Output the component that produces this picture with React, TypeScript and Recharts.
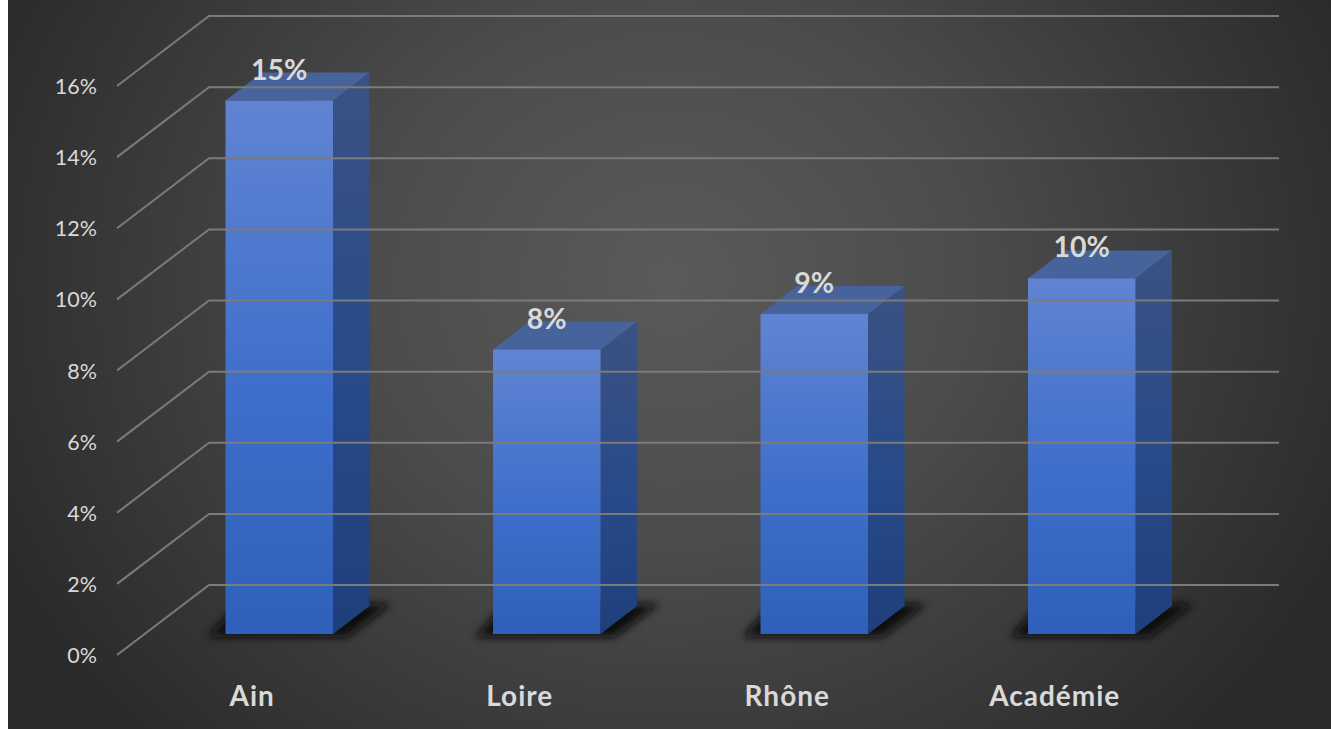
import { BarChart, Bar, XAxis, YAxis, LabelList } from "recharts";

const categories = ["Ain", "Loire", "Rhône", "Académie"];
const rates = [15, 8, 9, 10];
const yTicks = [0, 2, 4, 6, 8, 10, 12, 14, 16];

const chartData = categories.map((name, i) => ({ name, rate: rates[i] }));

const FONT = "Lato, sans-serif";
// the floor of the fake 3D box: bars stand a bit behind the axis front edge
const FLOOR_LIFT = 21;
const DEPTH_X = 36.5;
const DEPTH_Y = 28;

function YTick({ y, payload }: any) {
  return (
    <g>
      <path
        d={`M109 ${y} L201 ${y - 70} L1271 ${y - 70}`}
        fill="none"
        stroke="#7b7b7b"
        strokeWidth={2}
      />
      <text x={89} y={y + 8} textAnchor="end" fontFamily={FONT} fontSize={21.5} fill="#d9d9d9">
        {payload.value}%
      </text>
    </g>
  );
}

function XTick({ x, payload }: any) {
  return (
    <text
      x={x - 27}
      y={705.5}
      textAnchor="middle"
      fontFamily={FONT}
      fontSize={28}
      fontWeight={700}
      letterSpacing={1}
      fill="#d9d9d9"
    >
      {payload.value}
    </text>
  );
}

function Box3D({ x, y, width, height }: any) {
  const top = y - FLOOR_LIFT;
  const base = top + height;
  const right = x + width;
  return (
    <g>
      <polygon
        points={`${x - 18},${base + 3} ${right + 14},${base + 3} ${right + DEPTH_X + 22},${base - DEPTH_Y - 2} ${x + 12},${base - DEPTH_Y - 2}`}
        fill="#0c0c0c"
        filter="url(#floorShadow)"
      />
      <polygon
        points={`${right},${top} ${right + DEPTH_X},${top - DEPTH_Y} ${right + DEPTH_X},${base - DEPTH_Y} ${right},${base}`}
        fill="url(#sideFill)"
      />
      <polygon
        points={`${x},${top} ${x + DEPTH_X},${top - DEPTH_Y} ${right + DEPTH_X},${top - DEPTH_Y} ${right},${top}`}
        fill="#47639b"
      />
      <rect x={x} y={top} width={width} height={height} fill="url(#frontFill)" />
    </g>
  );
}

function BarValue({ x, y, width, value }: any) {
  return (
    <text
      x={x + width / 2}
      y={y - FLOOR_LIFT - 21}
      textAnchor="middle"
      fontFamily={FONT}
      fontSize={28.5}
      fontWeight={700}
      fill="#d9d9d9"
    >
      {value}%
    </text>
  );
}

export default function App() {
  return (
    <>
      <style>{"body{margin:0;background:#fff}"}</style>
      <div
        style={{
          marginLeft: 8,
          width: 1323,
          height: 729,
          overflow: "hidden",
          background:
            "radial-gradient(ellipse 56% 90% at 50% 38%, #5a5a5a 0%, #4c4c4c 40%, #3a3a3a 72%, #2a2a2a 100%)",
        }}
      >
        <BarChart
          width={1323}
          height={729}
          data={chartData}
          margin={{ top: 86, right: 115.5, bottom: 0, left: 0 }}
          barSize={107.5}
        >
          <defs>
            <linearGradient id="frontFill" x1="0" y1="0" x2="0" y2="1">
              <stop offset="0%" stopColor="#6084d2" />
              <stop offset="55%" stopColor="#3e6ecb" />
              <stop offset="100%" stopColor="#2e60ba" />
            </linearGradient>
            <linearGradient id="sideFill" x1="0" y1="0" x2="0" y2="1">
              <stop offset="0%" stopColor="#3b5282" />
              <stop offset="55%" stopColor="#274a8a" />
              <stop offset="100%" stopColor="#1f3f7b" />
            </linearGradient>
            <filter id="floorShadow" filterUnits="userSpaceOnUse" x="0" y="500" width="1323" height="229">
              <feGaussianBlur stdDeviation="4.5" />
            </filter>
          </defs>
          <XAxis
            dataKey="name"
            height={74}
            axisLine={false}
            tickLine={false}
            tick={<XTick />}
            interval={0}
          />
          <YAxis
            width={137.5}
            domain={[0, 16]}
            ticks={yTicks}
            axisLine={false}
            tickLine={false}
            tick={<YTick />}
            interval={0}
          />
          <Bar dataKey="rate" isAnimationActive={false} shape={<Box3D />}>
            <LabelList dataKey="rate" content={<BarValue />} />
          </Bar>
        </BarChart>
      </div>
    </>
  );
}
